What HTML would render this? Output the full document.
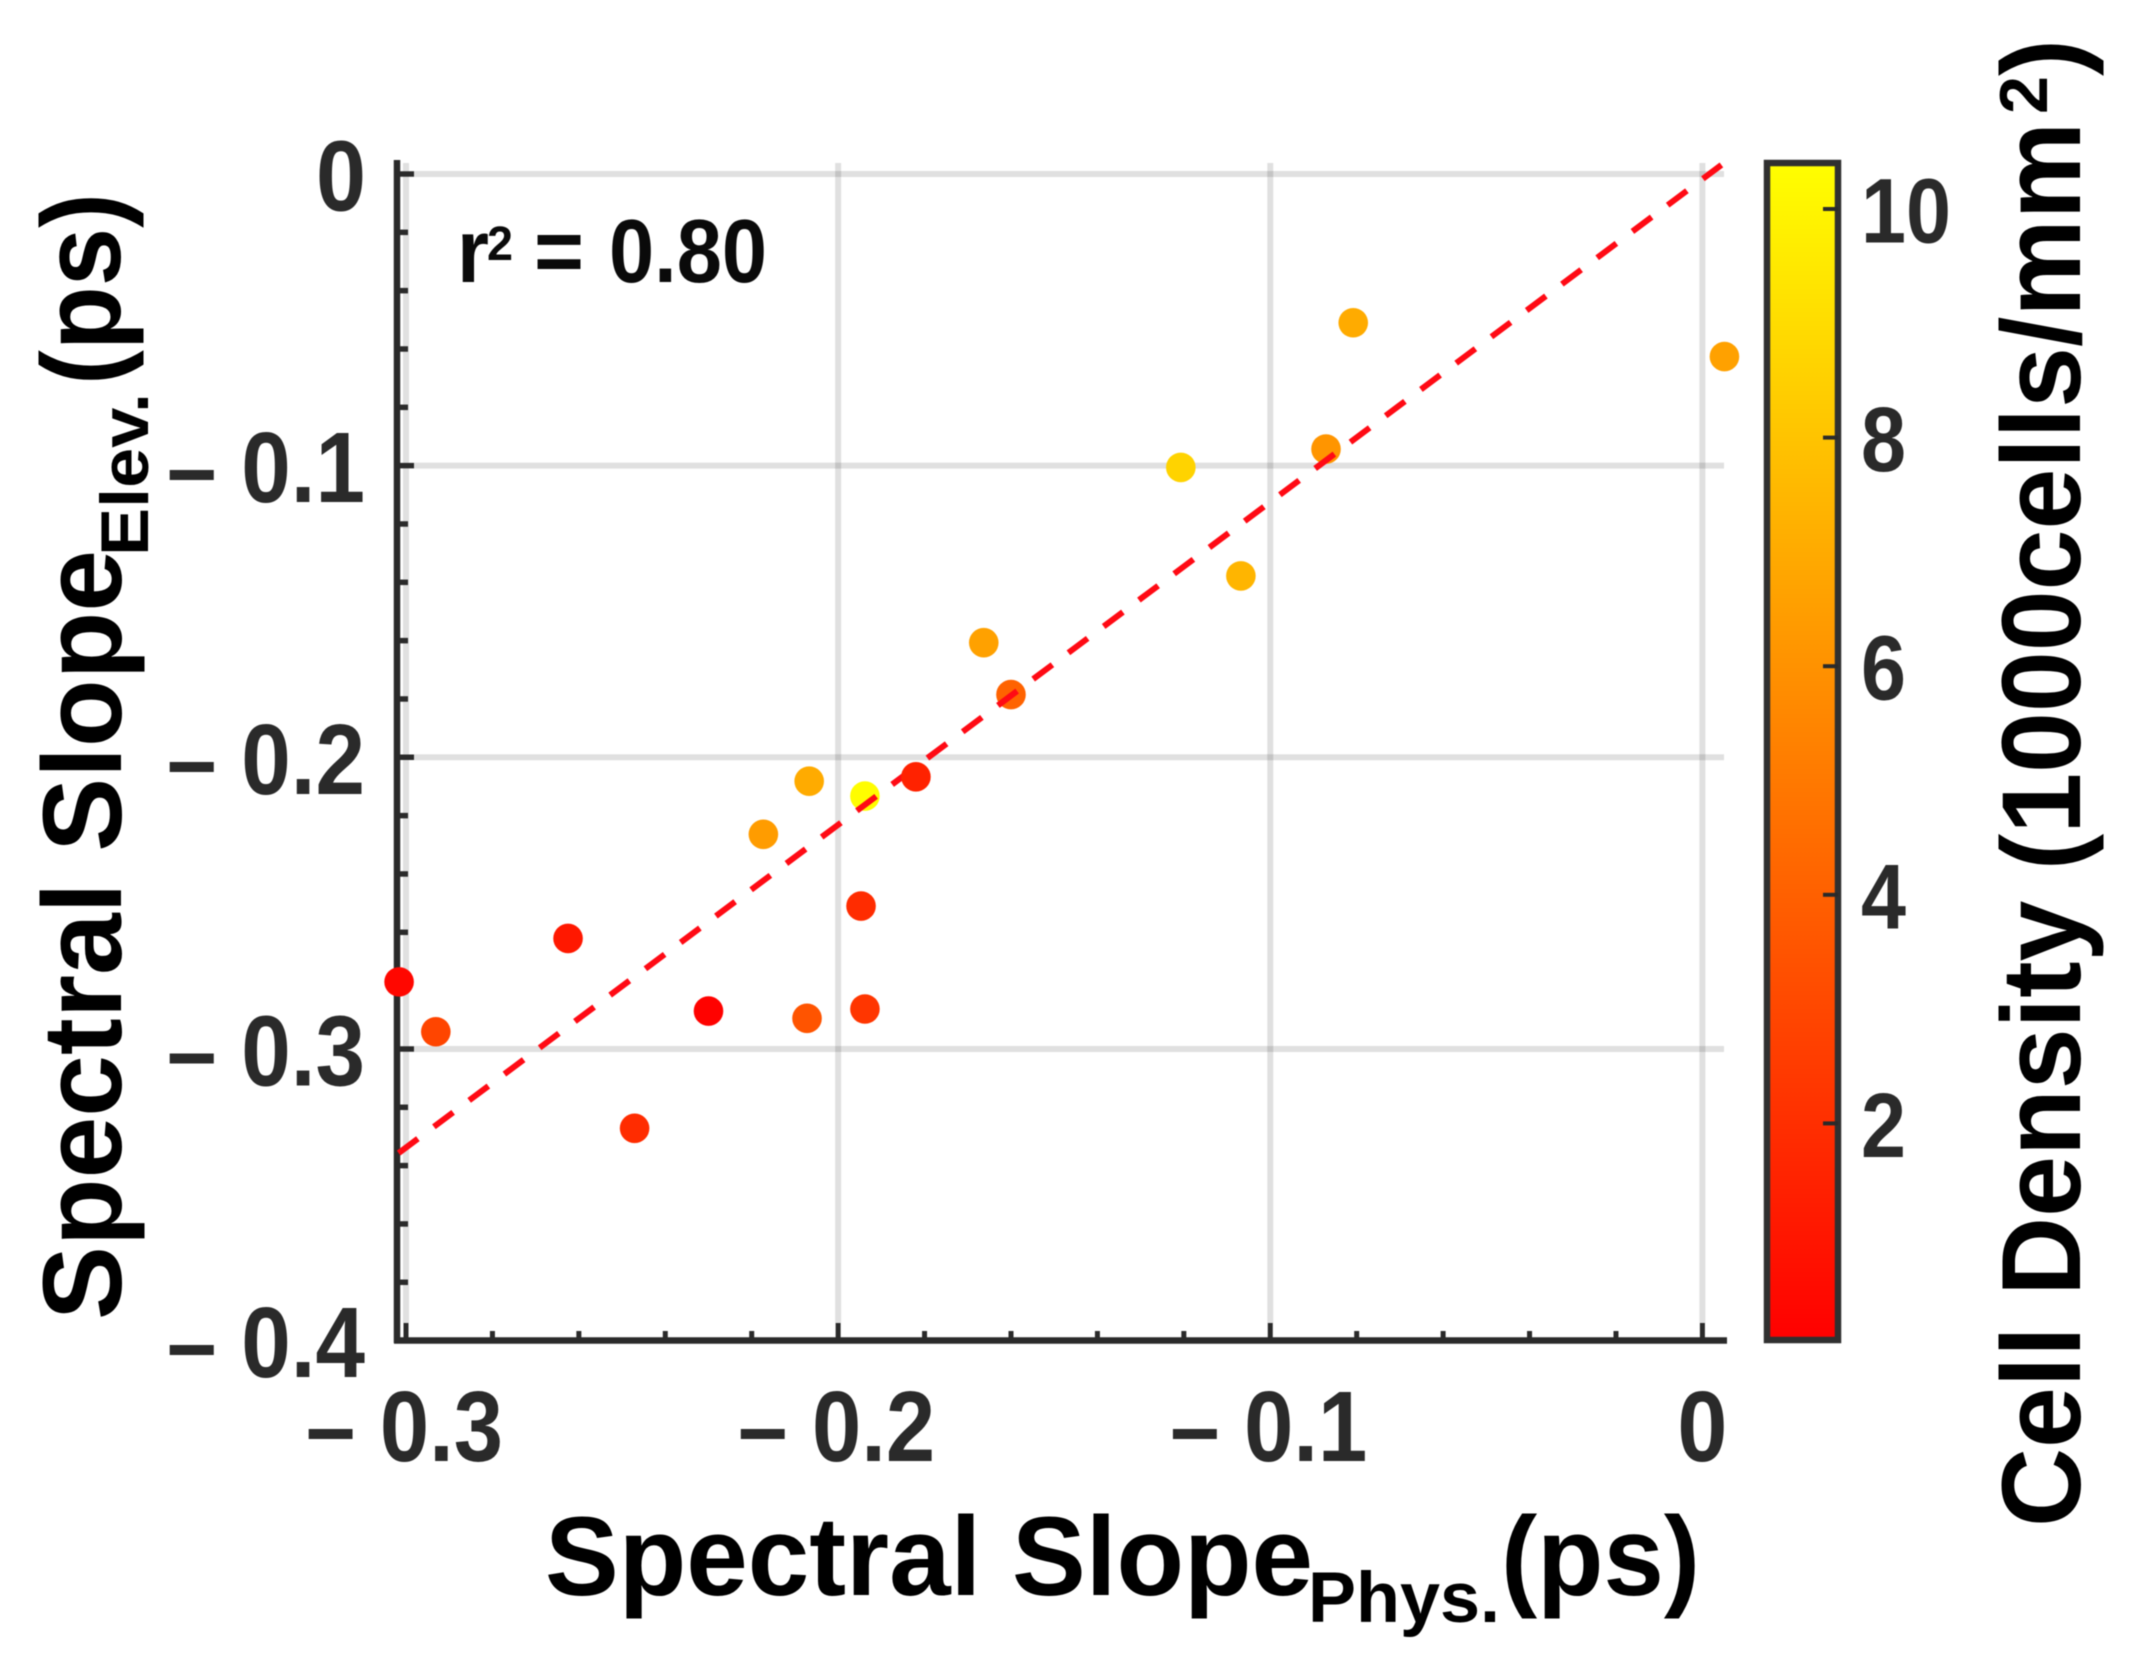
<!DOCTYPE html>
<html lang="en">
<head>
<meta charset="utf-8">
<title>Spectral Slope scatter chart</title>
<style>
html,body{margin:0;padding:0;background:#fff;}
svg{display:block;filter:blur(0.6px);}
text{font-family:"Liberation Sans",Arial,sans-serif;font-weight:bold;}
</style>
</head>
<body>
<svg id="chart" xmlns="http://www.w3.org/2000/svg" width="2131" height="1654" viewBox="0 0 2131 1654">
  <defs>
    <linearGradient id="autumn" x1="0" y1="1" x2="0" y2="0">
      <stop offset="0" stop-color="#ff0000"/>
      <stop offset="1" stop-color="#ffff00"/>
    </linearGradient>
  </defs>
  <rect x="0" y="0" width="2131" height="1654" fill="#fff"/>
  <g id="grid"></g>
  <g id="axes"></g>
  <g id="marks"></g>

  <text fill="#0a0a0a" font-size="90" y="282"><tspan x="457" textLength="32" lengthAdjust="spacingAndGlyphs">r</tspan><tspan x="487" y="260" font-size="48" textLength="26" lengthAdjust="spacingAndGlyphs">2</tspan><tspan x="534" y="282" textLength="50" lengthAdjust="spacingAndGlyphs">=</tspan><tspan x="609" y="282" textLength="158" lengthAdjust="spacingAndGlyphs">0.80</tspan></text>

  <g fill="#000">
    <text x="545" y="1595" font-size="112" textLength="768" lengthAdjust="spacingAndGlyphs">Spectral Slope</text>
    <text x="1308" y="1622" font-size="71" textLength="192" lengthAdjust="spacingAndGlyphs">Phys.</text>
    <text x="1501" y="1595" font-size="112" textLength="199" lengthAdjust="spacingAndGlyphs">(ps)</text>
  </g>

  <g fill="#000">
    <text transform="translate(121,1320) rotate(-90)" font-size="112" textLength="770" lengthAdjust="spacingAndGlyphs">Spectral Slope</text>
    <text transform="translate(148,556) rotate(-90)" font-size="68" textLength="163" lengthAdjust="spacingAndGlyphs">Elev.</text>
    <text transform="translate(120,385) rotate(-90)" font-size="112" textLength="192" lengthAdjust="spacingAndGlyphs">(ps)</text>
  </g>

  <g id="colorbar">
    <rect x="1767" y="163" width="71" height="1177" fill="url(#autumn)" stroke="#303030" stroke-width="6.5"/>
  </g>

  <g fill="#000">
    <text transform="translate(2080,1527) rotate(-90)" font-size="112" textLength="1405" lengthAdjust="spacingAndGlyphs">Cell Density (1000cells/mm</text>
    <text transform="translate(2047,114) rotate(-90)" font-size="68" textLength="38" lengthAdjust="spacingAndGlyphs">2</text>
    <text transform="translate(2080,76) rotate(-90)" font-size="112" textLength="37" lengthAdjust="spacingAndGlyphs">)</text>
  </g>
</svg>

<script>
// Data
const pointX = [-0.3016,-0.2931,-0.2625,-0.2471,-0.2300,-0.2072,-0.1938,-0.1947,-0.1938,-0.2067,-0.2173,-0.1600,-0.1663,-0.1068,-0.1207,-0.0871,-0.0808,0.0051,-0.1820];
const pointY = [-0.2770,-0.2941,-0.2621,-0.3272,-0.2870,-0.2895,-0.2863,-0.2510,-0.2133,-0.2082,-0.2264,-0.1785,-0.1607,-0.1378,-0.1006,-0.0943,-0.0510,-0.0626,-0.2067];
const pointDensity = [0.4,2.9,1.1,1.9,0.2,3.5,2.3,1.9,10.3,7.0,6.4,4.1,6.6,7.4,8.6,6.1,7.0,6.6,1.5];
const pointsDrawnOverLine = 1;
const fitLineX = [-0.3017,0.0044];
const fitLineY = [-0.3357,0.0031];
const xTickValues = [-0.3,-0.2,-0.1,0];
const xTickLabels = ['– 0.3','– 0.2','– 0.1','0'];
const yTickValues = [0,-0.1,-0.2,-0.3,-0.4];
const yTickLabels = ['0','– 0.1','– 0.2','– 0.3','– 0.4'];
const colorbarTickValues = [2,4,6,8,10];
const colorbarTickLabels = ['2','4','6','8','10'];
const colorRange = [0.12,10.38];
const axisXMin = -0.3;
const axisXMax = 0;
const axisYMin = -0.4;
const axisYMax = 0;
const minorStep = 0.02;

// Axis functions
function xScale(v){return 406+(v-axisXMin)/(axisXMax-axisXMin)*1296.4;}
function yScale(v){return 174+(axisYMax-v)/(axisYMax-axisYMin)*1166.6;}
function cScale(v){return 209+(10-v)*114.3;}
function densityColor(d){
  const t=Math.max(0,Math.min(1,(d-colorRange[0])/(colorRange[1]-colorRange[0])));
  return 'rgb(255,'+Math.round(255*t)+',0)';
}
const NS='http://www.w3.org/2000/svg';
function make(tag,parent,attrs){
  const e=document.createElementNS(NS,tag);
  for(const k in attrs){e.setAttribute(k,attrs[k]);}
  parent.appendChild(e);
  return e;
}
const gridG=document.getElementById('grid');
const axesG=document.getElementById('axes');
const marksG=document.getElementById('marks');
const cbG=document.getElementById('colorbar');
const DARK='#2a2a2a';
const TICK_FONT=100;

// Grid lines
xTickValues.forEach(function(v){
  const el=make('line',gridG,{x1:xScale(v),x2:xScale(v),y1:163,y2:1323,stroke:'#000','stroke-opacity':0.12,'stroke-width':6});
  
  
});
yTickValues.forEach(function(v){
  if(v===axisYMin){return;}
  const el=make('line',gridG,{x1:414,x2:1724,y1:yScale(v),y2:yScale(v),stroke:'#000','stroke-opacity':0.12,'stroke-width':6});
  
  
});

// Axis lines
const yAxisLine=make('line',axesG,{x1:397,x2:397,y1:160,y2:1343,stroke:DARK,'stroke-width':6.5});


const xAxisLine=make('line',axesG,{x1:394,x2:1727,y1:1340.5,y2:1340.5,stroke:DARK,'stroke-width':6.5});



// Minor ticks
for(let i=0;axisXMin+i*minorStep<=axisXMax+1e-9;i++){
  const v=axisXMin+i*minorStep;
  const major=xTickValues.some(function(t){return Math.abs(t-v)<1e-6;});
  const el=make('line',axesG,{x1:xScale(v),x2:xScale(v),y1:major?1323:1331,y2:1340,stroke:DARK,'stroke-width':5});
  
  
}
for(let i=0;axisYMax-i*minorStep>=axisYMin-1e-9;i++){
  const v=axisYMax-i*minorStep;
  const major=yTickValues.some(function(t){return Math.abs(t-v)<1e-6;});
  const el=make('line',axesG,{x1:397,x2:major?414:408,y1:yScale(v),y2:yScale(v),stroke:DARK,'stroke-width':5.5});
  
  
}

// Tick labels
xTickValues.forEach(function(v,i){
  const isZero=xTickLabels[i].length===1;
  const el=make('text',axesG,{x:isZero?xScale(v)-25:xScale(v)-100,y:1461,'font-size':TICK_FONT,fill:DARK,textLength:isZero?50:197,lengthAdjust:'spacingAndGlyphs'});
  el.textContent=xTickLabels[i];
  
  
});
yTickValues.forEach(function(v,i){
  const isZero=yTickLabels[i].length===1;
  const el=make('text',axesG,{x:isZero?316:167,y:yScale(v)+36.5,'font-size':TICK_FONT,fill:DARK,textLength:isZero?50:198,lengthAdjust:'spacingAndGlyphs'});
  el.textContent=yTickLabels[i];
  
  
});

// Scatter points and fit line
function drawPoint(i){
  const c=make('circle',marksG,{cx:xScale(pointX[i]),cy:yScale(pointY[i]),r:14.8,fill:densityColor(pointDensity[i])});
  
  
}
const underCount=pointX.length-pointsDrawnOverLine;
for(let i=0;i<underCount;i++){drawPoint(i);}
const fit=make('line',marksG,{x1:xScale(fitLineX[0]),y1:yScale(fitLineY[0]),x2:xScale(fitLineX[1]),y2:yScale(fitLineY[1]),stroke:'#ff0a14','stroke-width':6,'stroke-dasharray':'24 20'});


for(let i=underCount;i<pointX.length;i++){drawPoint(i);}

// Colorbar ticks and labels
colorbarTickValues.forEach(function(v,i){
  const t=make('line',cbG,{x1:1823,x2:1838,y1:cScale(v),y2:cScale(v),stroke:DARK,'stroke-width':4});
  
  
  const l=make('text',cbG,{x:1861,y:cScale(v)+33.5,'font-size':92,fill:DARK,textLength:colorbarTickLabels[i].length*45,lengthAdjust:'spacingAndGlyphs'});
  l.textContent=colorbarTickLabels[i];
  
  
});
</script>
</body>
</html>
